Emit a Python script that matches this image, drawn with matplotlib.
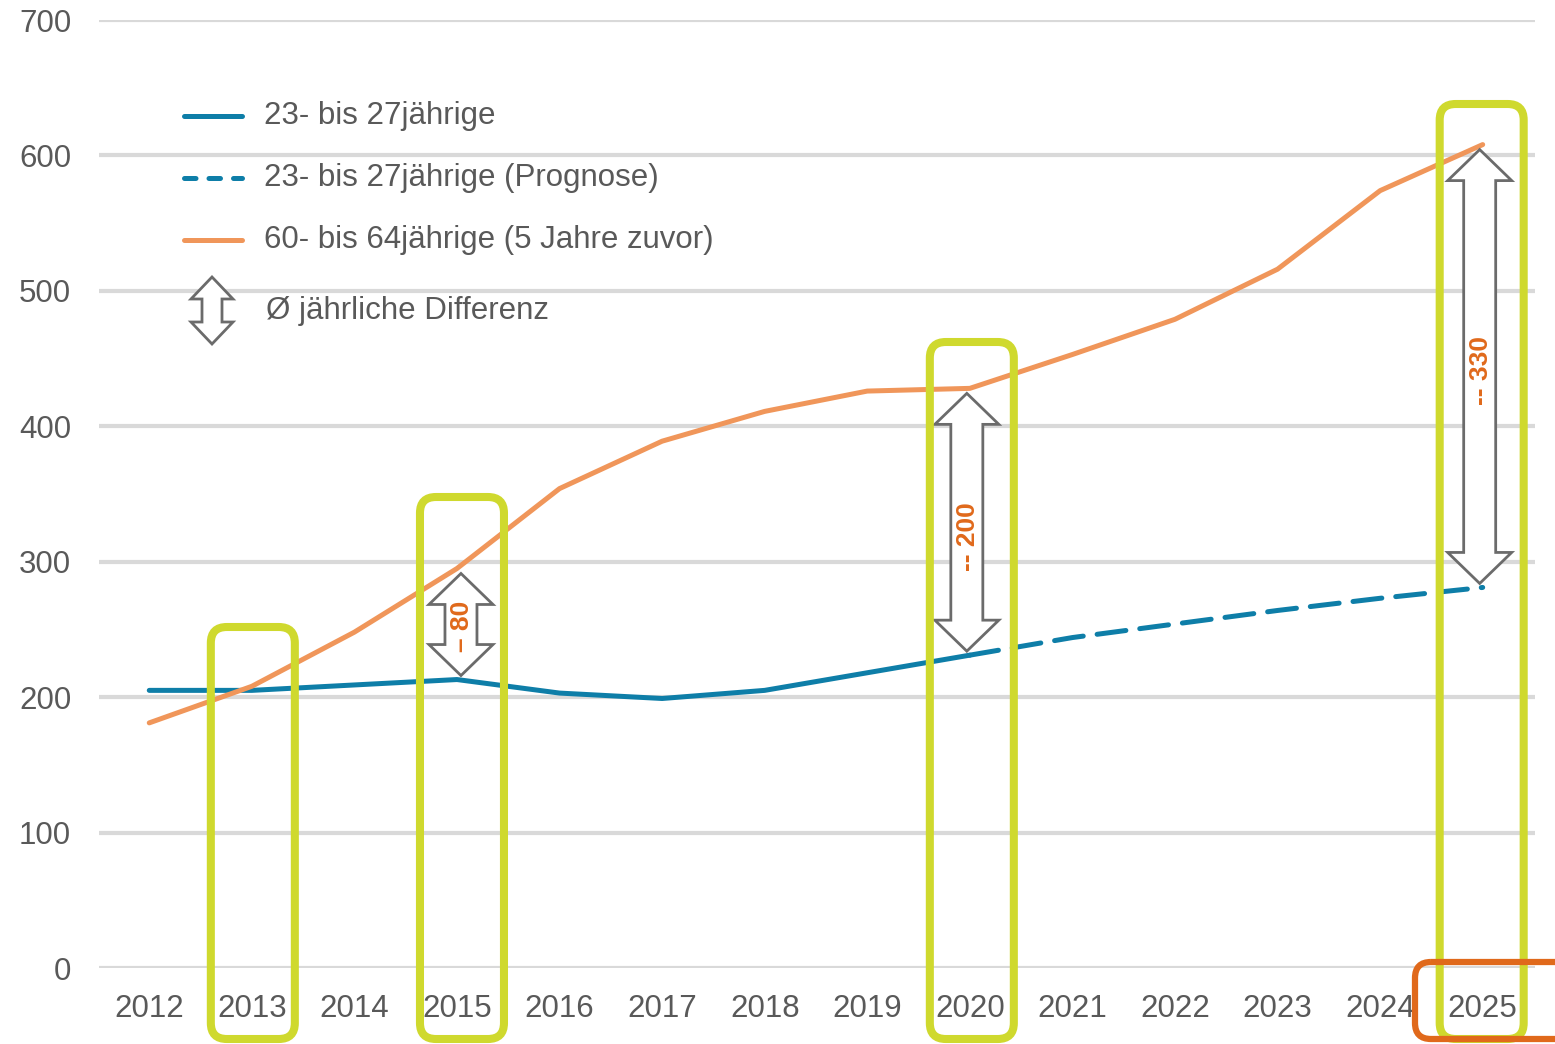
import numpy as np
import matplotlib.pyplot as plt
from matplotlib.patches import Polygon, FancyBboxPatch
from matplotlib.lines import Line2D
from matplotlib.transforms import Affine2D

plt.rcParams['font.family'] = ['Liberation Sans', 'DejaVu Sans']

# data (thousands of persons)
years = list(range(2012, 2026))
young_years = [2012, 2013, 2014, 2015, 2016, 2017, 2018, 2019, 2020]
young = [205, 205, 209, 213, 203, 199, 205, 218, 231]
prog_years = [2020, 2021, 2022, 2023, 2024, 2025]
prognose = [231, 244, 254, 264, 273, 281]
old = [181, 208, 248, 295, 354, 389, 411, 426, 428, 453, 479, 516, 574, 608]
diff_years = [2015, 2020, 2025]
diff_labels = ['– 80', '-- 200', '-- 330']
highlight_years = [2013, 2015, 2020, 2025]
legend_labels = ['23- bis 27jährige', '23- bis 27jährige (Prognose)',
                 '60- bis 64jährige (5 Jahre zuvor)', 'Ø jährliche Differenz']

BLUE = '#0e7ea8'
ORANGE = '#f0965a'
DARK_OR = '#e0691b'
GREEN = '#cfd92e'
GRID = '#d9d9d9'
TXT = '#595959'
ARW = '#6b6b6b'

W, H = 1555, 1044
fig = plt.figure(figsize=(W / 100, H / 100), dpi=100)
ax = fig.add_axes([99 / W, 1 - 968 / H, (1535 - 99) / W, (968 - 20) / H])
ax.set_xlim(2011.51, 2025.51)
ax.set_ylim(0, 700)
for s in ax.spines.values():
    s.set_visible(False)
ax.set_yticks(range(0, 701, 100))
ax.set_xticks(years)
ax.tick_params(length=0, labelsize=22.5, colors=TXT)
ax.tick_params(axis='x', pad=19)
ax.tick_params(axis='y', pad=20)
ax.grid(axis='y', color=GRID, linewidth=3)
ax.set_axisbelow(True)

lw = 3.6
ax.plot(young_years, young, color=BLUE, lw=lw, solid_capstyle='round', zorder=3)
ax.plot(prog_years, prognose, color=BLUE, lw=lw, dashes=(5.8, 2.8),
        dash_capstyle='round', zorder=3)
ax.plot(years, old, color=ORANGE, lw=lw, solid_capstyle='round', zorder=3)

# pixel transform (origin top-left)
pix = Affine2D().scale(1, -1).translate(0, H)


def arrow_pts(cx, y0, y1, hw, sw, hl):
    # double-headed hollow arrow, y0 bottom tip, y1 top tip (pixel coords from top)
    return [(cx, y1), (cx + hw, y1 + hl), (cx + sw, y1 + hl), (cx + sw, y0 - hl),
            (cx + hw, y0 - hl), (cx, y0), (cx - hw, y0 - hl), (cx - sw, y0 - hl),
            (cx - sw, y1 + hl), (cx - hw, y1 + hl)]


def to_pix(x, y):
    dx, dy = ax.transData.transform((x, y))
    return dx, H - dy


yr_idx = {y: i for i, y in enumerate(years)}
all_young = dict(zip(young_years, young))
all_young.update(dict(zip(prog_years, prognose)))

arrow_shift = {2015: 4, 2020: -3, 2025: -3}
label_shift = {2015: 2, 2020: 14, 2025: 4}
for yr, lab in zip(diff_years, diff_labels):
    cx, ytop = to_pix(yr, old[yr_idx[yr]])
    _, ybot = to_pix(yr, all_young[yr])
    cx += arrow_shift[yr]
    ytop += 5
    ybot -= 4
    p = Polygon(arrow_pts(cx, ybot, ytop, 32, 16, 31), closed=True,
                facecolor='white', edgecolor=ARW, lw=2, transform=pix, zorder=4)
    fig.add_artist(p)
    fig.text((cx + 1) / W, 1 - ((ytop + ybot) / 2 + label_shift[yr]) / H, lab,
             rotation=90, ha='center', va='center', color=DARK_OR, fontsize=19,
             fontweight='bold', zorder=6)

# highlight boxes
tops = {2013: 627, 2015: 497, 2020: 342, 2025: 104}
box_shift = {2013: 1, 2015: 5, 2020: 2, 2025: -1}
for yr in highlight_years:
    cx, _ = to_pix(yr, 0)
    cx += box_shift[yr]
    fb = FancyBboxPatch((cx - 42, tops[yr]), 84, 1039 - tops[yr],
                        boxstyle='round,pad=0,rounding_size=16',
                        transform=pix, facecolor='none', edgecolor=GREEN,
                        lw=5.8, zorder=5, clip_on=False)
    fig.add_artist(fb)

ob = FancyBboxPatch((1415, 962), 160, 77, boxstyle='round,pad=0,rounding_size=16',
                    transform=pix, facecolor='none', edgecolor=DARK_OR,
                    lw=4.5, zorder=5, clip_on=False)
fig.add_artist(ob)

# manual legend
leg_y = [116, 178, 240]
styles = [dict(color=BLUE), dict(color=BLUE, dashes=(2.3, 2.6)), dict(color=ORANGE)]
for yy, st, lab in zip(leg_y, styles, legend_labels[:3]):
    ln = Line2D([184, 242], [yy, yy], transform=pix, lw=lw,
                solid_capstyle='round', dash_capstyle='round', **st)
    fig.add_artist(ln)
    fig.text(264 / W, 1 - yy / H, lab, ha='left', va='center',
             fontsize=22.5, color=TXT)
li = Polygon(arrow_pts(212, 344, 277, 21, 10, 22), closed=True,
             facecolor='white', edgecolor=ARW, lw=2, transform=pix)
fig.add_artist(li)
fig.text(266 / W, 1 - 311 / H, legend_labels[3], ha='left', va='center',
         fontsize=22.5, color=TXT)

fig.savefig('out.png', dpi=100, facecolor='white')
